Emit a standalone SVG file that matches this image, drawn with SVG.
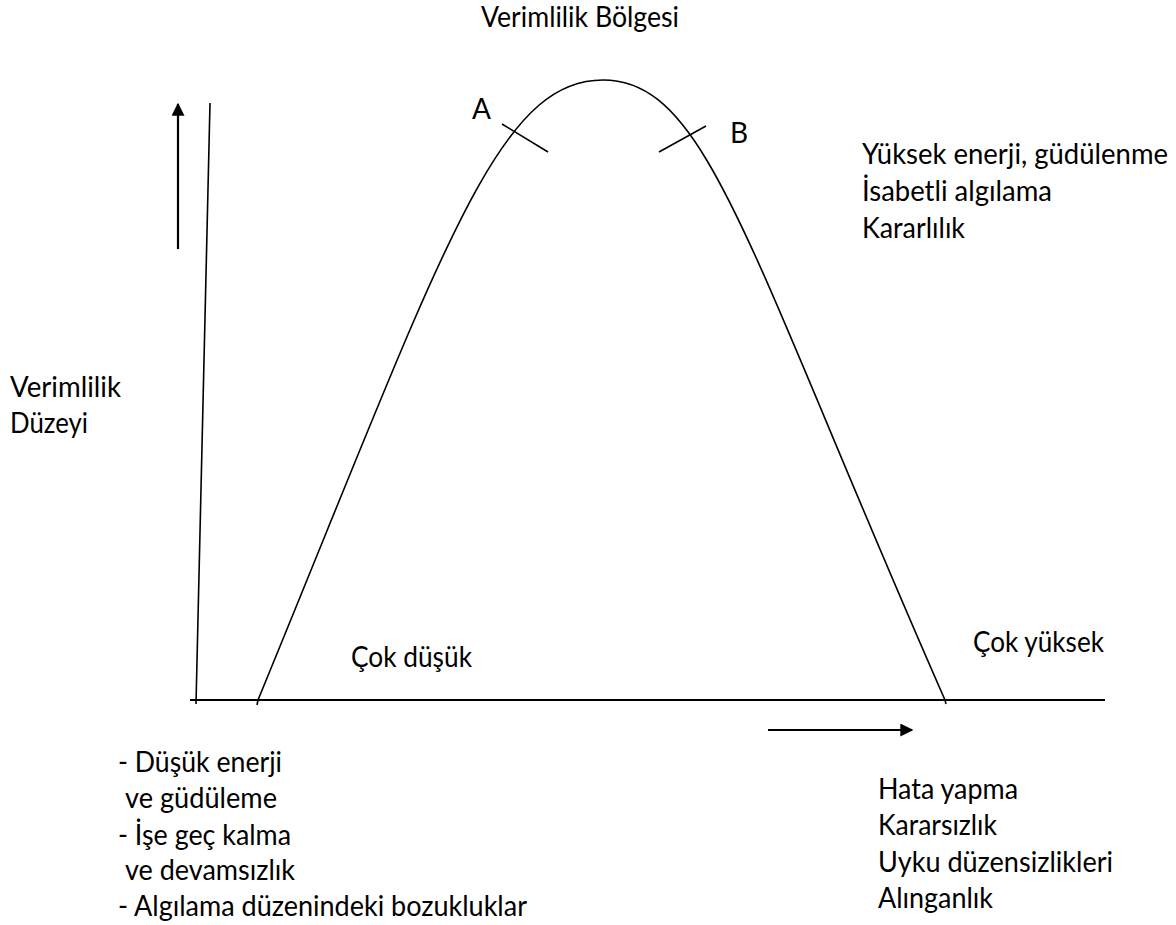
<svg xmlns="http://www.w3.org/2000/svg" width="1176" height="925" viewBox="0 0 1176 925">
<defs>
<style>
text{font-family:"Lato","Open Sans","Liberation Sans",sans-serif;font-size:28px;fill:#000}
.ln{fill:none;stroke:#000;stroke-width:1.6}
.ax{fill:none;stroke:#000;stroke-width:2.2}
</style>
<marker id="ah" viewBox="0 0 10 10" refX="9" refY="5" markerWidth="13" markerHeight="13" markerUnits="userSpaceOnUse" orient="auto">
<path d="M0,0 L10,5 L0,10 Z" fill="#000"/>
</marker>
</defs>
<rect width="1176" height="925" fill="#fff"/>
<g id="connectors">
<line class="ax" x1="178" y1="249" x2="178" y2="104" marker-end="url(#ah)"/>
<line class="ln" x1="210" y1="103" x2="196" y2="704"/>
<line class="ax" x1="190" y1="700" x2="1105" y2="700"/>
<line class="ln" x1="258" y1="700" x2="257" y2="705"/>
<line class="ln" x1="945" y1="700" x2="946" y2="704"/>
<line class="ax" x1="768" y1="730" x2="912" y2="730" marker-end="url(#ah)"/>
<path class="ln" d="M258,700 C443,250 496,80 603,80 C708,80 747,250 945,700"/>
<line class="ln" x1="502" y1="124" x2="548" y2="152"/>
<line class="ln" x1="659" y1="152" x2="706" y2="126"/>
</g>
<g id="labels">
<text x="481" y="27" textLength="198" lengthAdjust="spacingAndGlyphs">Verimlilik Bölgesi</text>
<text x="472" y="119">A</text>
<text x="730" y="143">B</text>
<text x="862" y="164" textLength="306" lengthAdjust="spacingAndGlyphs">Yüksek enerji, güdülenme</text>
<text x="862" y="201" textLength="190" lengthAdjust="spacingAndGlyphs">İsabetli algılama</text>
<text x="862" y="238" textLength="103" lengthAdjust="spacingAndGlyphs">Kararlılık</text>
<text x="10" y="397" textLength="111" lengthAdjust="spacingAndGlyphs">Verimlilik</text>
<text x="10" y="433" textLength="78" lengthAdjust="spacingAndGlyphs">Düzeyi</text>
<text x="351" y="667" textLength="121" lengthAdjust="spacingAndGlyphs">Çok düşük</text>
<text x="973" y="652" textLength="131" lengthAdjust="spacingAndGlyphs">Çok yüksek</text>
<text x="118" y="772" textLength="164" lengthAdjust="spacingAndGlyphs">- Düşük enerji</text>
<text x="125" y="808" textLength="152" lengthAdjust="spacingAndGlyphs">ve güdüleme</text>
<text x="118" y="845" textLength="173" lengthAdjust="spacingAndGlyphs">- İşe geç kalma</text>
<text x="125" y="880" textLength="170" lengthAdjust="spacingAndGlyphs">ve devamsızlık</text>
<text x="118" y="916" textLength="409" lengthAdjust="spacingAndGlyphs">- Algılama düzenindeki bozukluklar</text>
<text x="878" y="799" textLength="140" lengthAdjust="spacingAndGlyphs">Hata yapma</text>
<text x="878" y="835" textLength="119" lengthAdjust="spacingAndGlyphs">Kararsızlık</text>
<text x="878" y="872" textLength="235" lengthAdjust="spacingAndGlyphs">Uyku düzensizlikleri</text>
<text x="878" y="908" textLength="115" lengthAdjust="spacingAndGlyphs">Alınganlık</text>
</g>
</svg>
